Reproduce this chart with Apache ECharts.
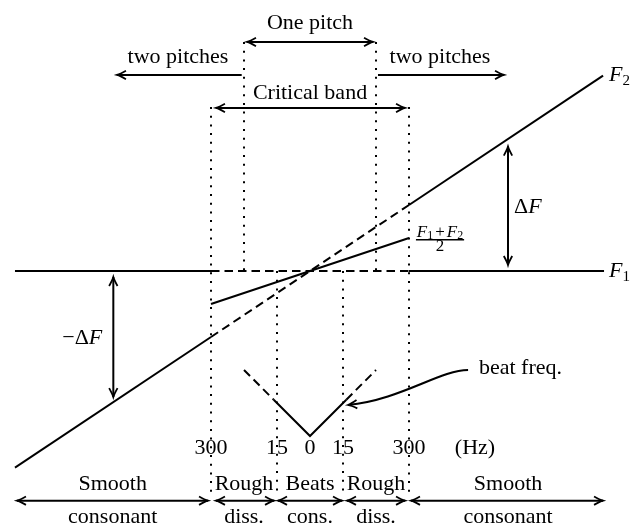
<!DOCTYPE html>
<html><head><meta charset="utf-8">
<script src="https://cdn.jsdelivr.net/npm/echarts@6/dist/echarts.min.js"></script>
<style>html,body{margin:0;padding:0;background:#fff}#c{width:631px;height:526px}</style>
</head><body><div id="c"></div>
<script>
// Diagram coordinates: x = position along the frequency-difference axis (0 = unison,
// ±1 = 15 Hz, ±2 = one-pitch limit, ±3 = 300 Hz / critical band edge), y = frequency relative to F1.
const X_RANGE = [-9.394, 9.727];
const Y_RANGE = [-7.727, 8.212];

const f1Solid = [[[-8.94, 0], [-3, 0]], [[3, 0], [8.91, 0]]];
const f1Dashed = [[[-3, 0], [3, 0]]];
const f2Solid = [[[-8.94, -5.96], [-3, -2]], [[3, 2], [8.88, 5.92]]];
const f2Dashed = [[[-3, -2], [3, 2]]];
const meanSolid = [[[-3, -1], [3, 1]]];
const beatSolid = [[[-1.1, -3.9], [0, -5], [1.1, -3.9]]];
const beatDashed = [[[-2, -3], [-1.1, -3.9]], [[1.1, -3.9], [2, -3]]];
// x, top y, bottom y
const dottedGuides = [[-3, 4.97, -6.73], [-2, 6.94, 0], [-1, 0, -6.73], [1, 0, -6.73], [2, 6.94, 0], [3, 4.97, -6.73]];
// x1, y1, x2, y2, head at start, head at end
const arrows = [
  [-1.91, 6.94, 1.91, 6.94, 1, 1],
  [-2.07, 5.94, -5.85, 5.94, 0, 1],
  [2.06, 5.94, 5.88, 5.94, 0, 1],
  [-2.85, 4.94, 2.88, 4.94, 1, 1],
  [6.0, 3.77, 6.0, 0.18, 1, 1],
  [-5.96, -0.18, -5.96, -3.82, 1, 1],
  [-8.88, -6.96, -3.09, -6.96, 1, 1],
  [-2.85, -6.96, -1.09, -6.96, 1, 1],
  [-0.97, -6.96, 0.97, -6.96, 1, 1],
  [1.12, -6.96, 2.88, -6.96, 1, 1],
  [3.06, -6.96, 8.88, -6.96, 1, 1]
];
const beatPointer = [[4.79, -3.0], [3.94, -3.0], [2.73, -3.91], [1.15, -4.06]];
const tickLabels = [[-3, '300'], [-1, '15'], [0, '0'], [1, '15'], [3, '300'], [5.0, '(Hz)']];
const tickRowY = -5.36;
const regionNames = [[-5.98, 'Smooth', 'consonant'], [-2, 'Rough', 'diss.'], [0, 'Beats', 'cons.'], [2, 'Rough', 'diss.'], [6.0, 'Smooth', 'consonant']];
const regionRowY = [-6.45, -7.45];
const topLabels = [[0, 7.52, 'One pitch'], [-4.0, 6.48, 'two pitches'], [3.94, 6.48, 'two pitches'], [0, 5.39, 'Critical band']];
const sideLabels = [[5.12, -2.94, 'beat freq.']];
// x, y, rich text, align
const mathLabels = [
  [9.06, 5.94, '{i|F}{s|2}', 'left'],
  [9.06, 0, '{i|F}{s|1}', 'left'],
  [6.6, 1.94, '{r|Δ}{i|F}', 'center'],
  [-6.9, -2.03, '{r|−Δ}{i|F}', 'center']
];
const fractionNumerator = [3.94, 1.18, '{fi|F}{fs|1}{fp|+}{fi|F}{fs|2}'];
const fractionBar = [[3.21, 0.95], [4.67, 0.95]];
const fractionDenominator = [3.94, 0.74, '2'];

const INK = '#000';
const FONT = "'Liberation Serif','Times New Roman','DejaVu Serif',serif";
const FS = 22;
const RICH = {
  i: { fontFamily: FONT, fontStyle: 'italic', fontSize: FS, fill: INK, lineHeight: 30 },
  r: { fontFamily: FONT, fontSize: FS, fill: INK, lineHeight: 30 },
  s: { fontFamily: FONT, fontSize: 15, fill: INK, padding: [12, 0, 0, 0] },
  fi: { fontFamily: FONT, fontStyle: 'italic', fontSize: 17, fill: INK, lineHeight: 22 },
  fs: { fontFamily: FONT, fontSize: 12, fill: INK, padding: [8, 0, 0, 0] },
  fp: { fontFamily: FONT, fontSize: 17, fill: INK, padding: [0, 2, 0, 2], lineHeight: 22 }
};

// text table built from the arrays above: x, y, text, align, size
const textItems = [];
topLabels.forEach(t => textItems.push([t[0], t[1], t[2], 'center', FS]));
sideLabels.forEach(t => textItems.push([t[0], t[1], t[2], 'left', FS]));
tickLabels.forEach(t => textItems.push([t[0], tickRowY, t[1], 'center', FS]));
regionNames.forEach(t => {
  textItems.push([t[0], regionRowY[0], t[1], 'center', FS]);
  textItems.push([t[0], regionRowY[1], t[2], 'center', FS]);
});
mathLabels.forEach(t => textItems.push([t[0], t[1], t[2], t[3], FS]));
textItems.push([fractionNumerator[0], fractionNumerator[1], fractionNumerator[2], 'center', 17]);
textItems.push([fractionDenominator[0], fractionDenominator[1], fractionDenominator[2], 'center', 17]);

function pathSeries(segs, dash, width) {
  return {
    type: 'custom', coordinateSystem: 'cartesian2d', silent: true, clip: false,
    data: segs.map(s => s[0]),
    renderItem(params, api) {
      const pts = segs[params.dataIndex].map(p => api.coord(p));
      return { type: 'polyline', shape: { points: pts },
        style: { stroke: INK, lineWidth: width, fill: null, lineDash: dash } };
    }
  };
}

function arrowHead(tip, from) {
  const dx = tip[0] - from[0], dy = tip[1] - from[1];
  const len = Math.hypot(dx, dy) || 1;
  const ux = dx / len, uy = dy / len, nx = -uy, ny = ux;
  const L = 9, W = 4.2;
  const p = (a, b) => [tip[0] - a * ux + b * nx, tip[1] - a * uy + b * ny];
  const b1 = p(L, W), c1 = p(L * 0.35, W * 0.22), b2 = p(L, -W), c2 = p(L * 0.35, -W * 0.22);
  return { type: 'path',
    shape: { pathData: `M${b1[0]} ${b1[1]} Q${c1[0]} ${c1[1]} ${tip[0]} ${tip[1]} Q${c2[0]} ${c2[1]} ${b2[0]} ${b2[1]}` },
    style: { stroke: INK, fill: null, lineWidth: 1.8 } };
}

const guideSegs = dottedGuides.map(g => [[g[0], g[1]], [g[0], g[2]]]);

const series = [
  pathSeries(guideSegs, [2, 6.7], 2),
  pathSeries(f1Solid, null, 2),
  pathSeries(f1Dashed, [8.5, 5], 2),
  pathSeries(f2Solid, null, 2),
  pathSeries(f2Dashed, [8.5, 5], 2),
  pathSeries(meanSolid, null, 2),
  pathSeries(beatSolid, null, 2),
  pathSeries(beatDashed, [8.5, 5], 2),
  pathSeries([fractionBar], null, 1.5),
  {
    type: 'custom', coordinateSystem: 'cartesian2d', silent: true, clip: false,
    data: arrows.map(a => [a[0], a[1]]),
    renderItem(params, api) {
      const a = arrows[params.dataIndex];
      const s = api.coord([a[0], a[1]]), e = api.coord([a[2], a[3]]);
      const children = [{ type: 'line', shape: { x1: s[0], y1: s[1], x2: e[0], y2: e[1] },
        style: { stroke: INK, lineWidth: 2 } }];
      if (a[4]) children.push(arrowHead(s, e));
      if (a[5]) children.push(arrowHead(e, s));
      return { type: 'group', children };
    }
  },
  {
    type: 'custom', coordinateSystem: 'cartesian2d', silent: true, clip: false,
    data: [beatPointer[0]],
    renderItem(params, api) {
      const [p0, p1, p2, p3] = beatPointer.map(p => api.coord(p));
      return { type: 'group', children: [
        { type: 'bezierCurve', shape: { x1: p0[0], y1: p0[1], cpx1: p1[0], cpy1: p1[1], cpx2: p2[0], cpy2: p2[1], x2: p3[0], y2: p3[1] },
          style: { stroke: INK, lineWidth: 2.2, fill: null } },
        arrowHead(p3, p2)
      ] };
    }
  },
  {
    type: 'custom', coordinateSystem: 'cartesian2d', silent: true, clip: false,
    data: textItems.map(t => [t[0], t[1]]),
    renderItem(params, api) {
      const t = textItems[params.dataIndex];
      const pt = api.coord([t[0], t[1]]);
      return { type: 'text', x: pt[0], y: pt[1],
        style: { text: t[2], fill: INK, fontFamily: FONT, fontSize: t[4], align: t[3], verticalAlign: 'middle', rich: RICH } };
    }
  }
];

const chart = echarts.init(document.getElementById('c'), null, { renderer: 'canvas' });
chart.setOption({
  animation: false,
  backgroundColor: '#fff',
  grid: { left: 0, right: 0, top: 0, bottom: 0, containLabel: false },
  xAxis: { type: 'value', min: X_RANGE[0], max: X_RANGE[1], show: false },
  yAxis: { type: 'value', min: Y_RANGE[0], max: Y_RANGE[1], show: false },
  series
});
</script></body></html>
